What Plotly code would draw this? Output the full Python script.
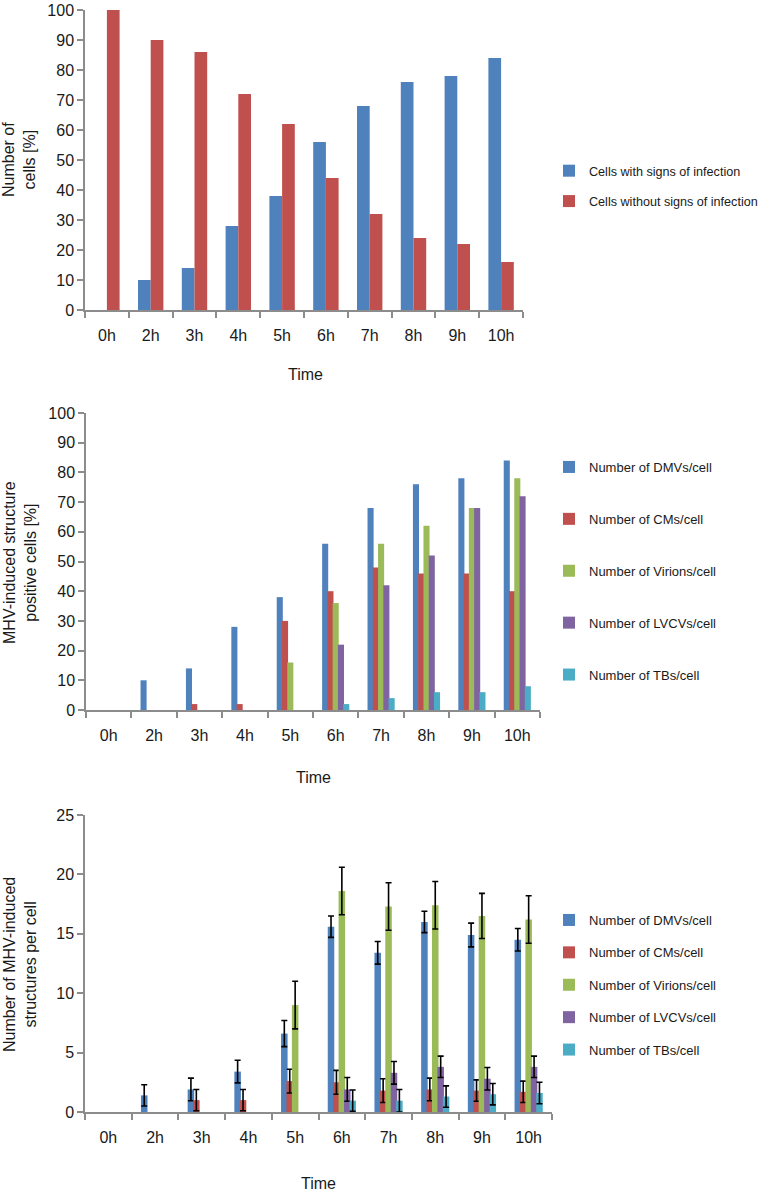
import plotly.graph_objects as go

# ---------------- data ----------------
times = ["0h", "2h", "3h", "4h", "5h", "6h", "7h", "8h", "9h", "10h"]

# chart 1
infected = [0, 10, 14, 28, 38, 56, 68, 76, 78, 84]
not_infected = [100, 90, 86, 72, 62, 44, 32, 24, 22, 16]

# chart 2 (% positive cells)
pos_dmv = [0, 10, 14, 28, 38, 56, 68, 76, 78, 84]
pos_cm = [0, 0, 2, 2, 30, 40, 48, 46, 46, 40]
pos_vir = [0, 0, 0, 0, 16, 36, 56, 62, 68, 78]
pos_lvcv = [0, 0, 0, 0, 0, 22, 42, 52, 68, 72]
pos_tb = [0, 0, 0, 0, 0, 2, 4, 6, 6, 8]

# chart 3 (structures per cell, mean and error)
n_dmv = [None, 1.4, 1.9, 3.4, 6.6, 15.6, 13.4, 16.0, 14.9, 14.5]
e_dmv = [None, 0.9, 0.95, 0.95, 1.1, 0.9, 0.95, 0.9, 1.0, 0.95]
n_cm = [None, None, 1.0, 1.0, 2.6, 2.5, 1.8, 1.9, 1.8, 1.7]
e_cm = [None, None, 0.9, 0.9, 1.0, 1.0, 1.0, 0.95, 0.9, 0.9]
n_vir = [None, None, None, None, 9.0, 18.6, 17.3, 17.4, 16.5, 16.2]
e_vir = [None, None, None, None, 2.0, 2.0, 2.0, 2.0, 1.9, 2.0]
n_lvcv = [None, None, None, None, None, 1.9, 3.3, 3.8, 2.8, 3.8]
e_lvcv = [None, None, None, None, None, 1.0, 0.95, 0.9, 0.95, 0.9]
n_tb = [None, None, None, None, None, 0.95, 0.95, 1.3, 1.5, 1.6]
e_tb = [None, None, None, None, None, 0.9, 0.95, 0.9, 0.9, 0.9]

names1 = ["Cells with signs of infection", "Cells without signs of infection"]
names = ["Number of DMVs/cell", "Number of CMs/cell", "Number of Virions/cell",
         "Number of LVCVs/cell", "Number of TBs/cell"]

BLUE, RED, GREEN, PURPLE, CYAN = "#4F81BD", "#C0504D", "#9BBB59", "#8064A2", "#4BACC6"
colors = [BLUE, RED, GREEN, PURPLE, CYAN]

W, H = 762, 1194
FONT = "Arial, Liberation Sans, sans-serif"

fig = go.Figure()

# chart 1
for i, (vals, nm) in enumerate(zip([infected, not_infected], names1)):
    fig.add_trace(go.Bar(x=times, y=vals, name=nm, marker_color=colors[i],
                         marker_line_width=0, xaxis="x", yaxis="y",
                         legend="legend", legendgroup="a%d" % i))

# chart 2
for i, vals in enumerate([pos_dmv, pos_cm, pos_vir, pos_lvcv, pos_tb]):
    fig.add_trace(go.Bar(x=times, y=vals, name=names[i], marker_color=colors[i],
                         marker_line_width=0, xaxis="x2", yaxis="y2", width=0.134,
                         legend="legend2", legendgroup="b%d" % i))

# chart 3
for i, (vals, errs) in enumerate(zip([n_dmv, n_cm, n_vir, n_lvcv, n_tb],
                                     [e_dmv, e_cm, e_vir, e_lvcv, e_tb])):
    fig.add_trace(go.Bar(x=times, y=vals, name=names[i], marker_color=colors[i],
                         marker_line_width=0, xaxis="x3", yaxis="y3", width=0.14,
                         legend="legend3", legendgroup="c%d" % i,
                         error_y=dict(type="data", array=errs, visible=True,
                                      color="black", thickness=1.6, width=3)))


def px_x(p):
    return p / W


def px_y(p):
    return 1 - p / H


axis_common = dict(showline=True, linecolor="#8C8C8C", linewidth=1.5,
                   showgrid=False, zeroline=False, ticks="outside",
                   tickcolor="#8C8C8C", tickwidth=1.5, ticklen=6, automargin=False,
                   tickfont=dict(size=16, color="#1a1a1a", family=FONT))

xcat = dict(axis_common, type="category", tickson="boundaries", ticklabelstandoff=10)

layout = dict(
    width=W, height=H, margin=dict(l=0, r=0, t=0, b=0, autoexpand=False),
    paper_bgcolor="white", plot_bgcolor="white",
    font=dict(family=FONT, color="#1a1a1a"),
    xaxis=dict(xcat, domain=[px_x(85), px_x(523)], anchor="y"),
    yaxis=dict(axis_common, domain=[px_y(310), px_y(10)], range=[0, 100], dtick=10, anchor="x"),
    xaxis2=dict(xcat, domain=[px_x(86), px_x(540)], anchor="y2"),
    yaxis2=dict(axis_common, domain=[px_y(710), px_y(413)], range=[0, 100], dtick=10, anchor="x2"),
    xaxis3=dict(xcat, domain=[px_x(85), px_x(552)], anchor="y3"),
    yaxis3=dict(axis_common, domain=[px_y(1112), px_y(815)], range=[0, 25], dtick=5, anchor="x3"),
    barmode="group",
    bargap=0.42, bargroupgap=0,
    showlegend=True,
)

leg_common = dict(font=dict(size=13, family=FONT, color="#1a1a1a"),
                  bgcolor="rgba(0,0,0,0)", xanchor="left", yanchor="top",
                  x=px_x(549), itemclick=False)
layout["legend"] = dict(leg_common, y=px_y(156), tracegroupgap=11,
                        font=dict(size=12.6, family=FONT, color="#1a1a1a"))
layout["legend2"] = dict(leg_common, y=px_y(452), tracegroupgap=32)
layout["legend3"] = dict(leg_common, y=px_y(905), tracegroupgap=12.5)

fig.update_layout(**layout)

ann = []


def ytitle(text, cx, cy):
    ann.append(dict(text=text, x=px_x(cx), y=px_y(cy), xref="paper", yref="paper",
                    showarrow=False, textangle=-90, xanchor="center", yanchor="middle",
                    font=dict(size=16, family=FONT, color="#1a1a1a")))


def xtitle(text, cx, cy):
    ann.append(dict(text=text, x=px_x(cx), y=px_y(cy), xref="paper", yref="paper",
                    showarrow=False, xanchor="center", yanchor="middle",
                    font=dict(size=16, family=FONT, color="#1a1a1a")))


ytitle("Number of<br>cells [%]", 19, 160)
ytitle("MHV-induced structure<br>positive cells [%]", 20, 563)
ytitle("Number of MHV-induced<br>structures per cell", 20, 965)
xtitle("Time", 305, 375)
xtitle("Time", 313, 777)
xtitle("Time", 318, 1183)
fig.update_layout(annotations=ann)

fig.write_html("out.html", config={"displayModeBar": False},
               post_script="document.body.style.margin='0';document.body.style.overflow='hidden';")
